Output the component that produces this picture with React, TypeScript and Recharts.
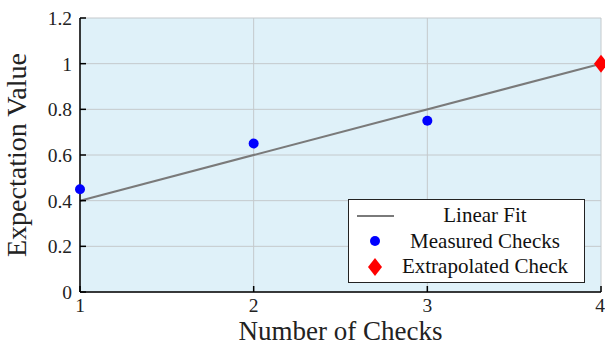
import {
  ComposedChart,
  Line,
  Scatter,
  CartesianGrid,
  XAxis,
  YAxis,
  Label,
} from "recharts";

const checks = [1, 2, 3];
const measured = [0.45, 0.65, 0.75];
const fitChecks = [1, 4];
const fitValues = [0.4, 1.0];
const extrapolatedCheck = [4];
const extrapolatedValue = [1.0];
const xTicks = [1, 2, 3, 4];
const yTicks = [0, 0.2, 0.4, 0.6, 0.8, 1, 1.2];

const fitData = fitChecks.map((x, i) => ({ x, y: fitValues[i] }));
const measuredData = checks.map((x, i) => ({ x, y: measured[i] }));
const extraData = extrapolatedCheck.map((x, i) => ({ x, y: extrapolatedValue[i] }));

const font = "'Liberation Serif', serif";

const Dot = (p: any) => <circle cx={p.cx} cy={p.cy} r={5} fill="#0000ff" />;
const Diamond = (p: any) => (
  <polygon
    points={`${p.cx},${p.cy - 9} ${p.cx + 7},${p.cy} ${p.cx},${p.cy + 9} ${p.cx - 7},${p.cy}`}
    fill="#ff0000"
  />
);

function LegendBox() {
  const row = { display: "flex", alignItems: "center", height: 25.5 };
  const sym = { width: 52, display: "flex", justifyContent: "center" };
  const txt = { flex: 1, textAlign: "center" as const, paddingRight: 15 };
  return (
    <div
      style={{
        position: "absolute",
        left: 348,
        top: 199,
        border: "1px solid #222",
        background: "#fff",
        fontFamily: font,
        fontSize: 21,
        lineHeight: "25px",
        color: "#111",
        paddingTop: 3,
        width: 237,
        height: 84,
        boxSizing: "border-box",
      }}
    >
      <div style={row}>
        <div style={sym}>
          <div style={{ width: 37, height: 2, background: "#7a7a7a" }} />
        </div>
        <div style={txt}>Linear Fit</div>
      </div>
      <div style={row}>
        <div style={sym}>
          <div style={{ width: 10, height: 10, borderRadius: 5, background: "#0000ff" }} />
        </div>
        <div style={txt}>Measured Checks</div>
      </div>
      <div style={row}>
        <div style={sym}>
          <svg width={16} height={20}>
            <polygon points="8,1 15,10 8,19 1,10" fill="#ff0000" />
          </svg>
        </div>
        <div style={txt}>Extrapolated Check</div>
      </div>
    </div>
  );
}

export default function App() {
  const tickStyle = { fontFamily: font, fontSize: 19.5, fill: "#222" };
  return (
    <div style={{ position: "absolute", left: 0, top: 0, width: 605, height: 345 }}>
      <ComposedChart
        width={605}
        height={345}
        margin={{ top: 18, right: 4, bottom: 0, left: 0 }}
      >
        <CartesianGrid
          xAxisId="b"
          yAxisId="l"
          fill="#dff1f9"
          stroke="#c4c9cc"
          strokeWidth={1}
        />
        <XAxis
          xAxisId="b"
          dataKey="x"
          type="number"
          domain={[1, 4]}
          ticks={xTicks}
          height={53}
          tickSize={-6}
          tickMargin={12}
          stroke="#000"
          strokeWidth={1.5}
          tick={tickStyle}
        >
          <Label
            value="Number of Checks"
            position="insideBottom"
            offset={5}
            style={{ fontFamily: font, fontSize: 27, fill: "#222" }}
          />
        </XAxis>
        <XAxis
          xAxisId="t"
          orientation="top"
          dataKey="x"
          type="number"
          domain={[1, 4]}
          ticks={xTicks}
          height={0}
          tickSize={-6}
          tickFormatter={() => ""}
          stroke="#000"
          strokeWidth={1.5}
        />
        <YAxis
          yAxisId="l"
          type="number"
          domain={[0, 1.2]}
          ticks={yTicks}
          width={80}
          tickSize={-6}
          tickMargin={14}
          stroke="#000"
          strokeWidth={1.5}
          tick={tickStyle}
        >
          <Label
            value="Expectation Value"
            angle={-90}
            position="insideLeft"
            offset={16}
            style={{ fontFamily: font, fontSize: 28, fill: "#222", textAnchor: "middle" }}
          />
        </YAxis>
        <YAxis
          yAxisId="r"
          orientation="right"
          type="number"
          domain={[0, 1.2]}
          ticks={yTicks}
          width={0}
          tickSize={-6}
          tickFormatter={() => ""}
          stroke="#000"
          strokeWidth={1.5}
        />
        <Line
          xAxisId="b"
          yAxisId="l"
          data={fitData}
          dataKey="y"
          stroke="#7a7a7a"
          strokeWidth={2}
          dot={false}
          isAnimationActive={false}
          name="Linear Fit"
        />
        <Scatter
          xAxisId="b"
          yAxisId="l"
          data={measuredData}
          dataKey="y"
          shape={Dot}
          isAnimationActive={false}
          name="Measured Checks"
        />
        <Scatter
          xAxisId="b"
          yAxisId="l"
          data={extraData}
          dataKey="y"
          shape={Diamond}
          isAnimationActive={false}
          name="Extrapolated Check"
        />
      </ComposedChart>
      <LegendBox />
    </div>
  );
}
